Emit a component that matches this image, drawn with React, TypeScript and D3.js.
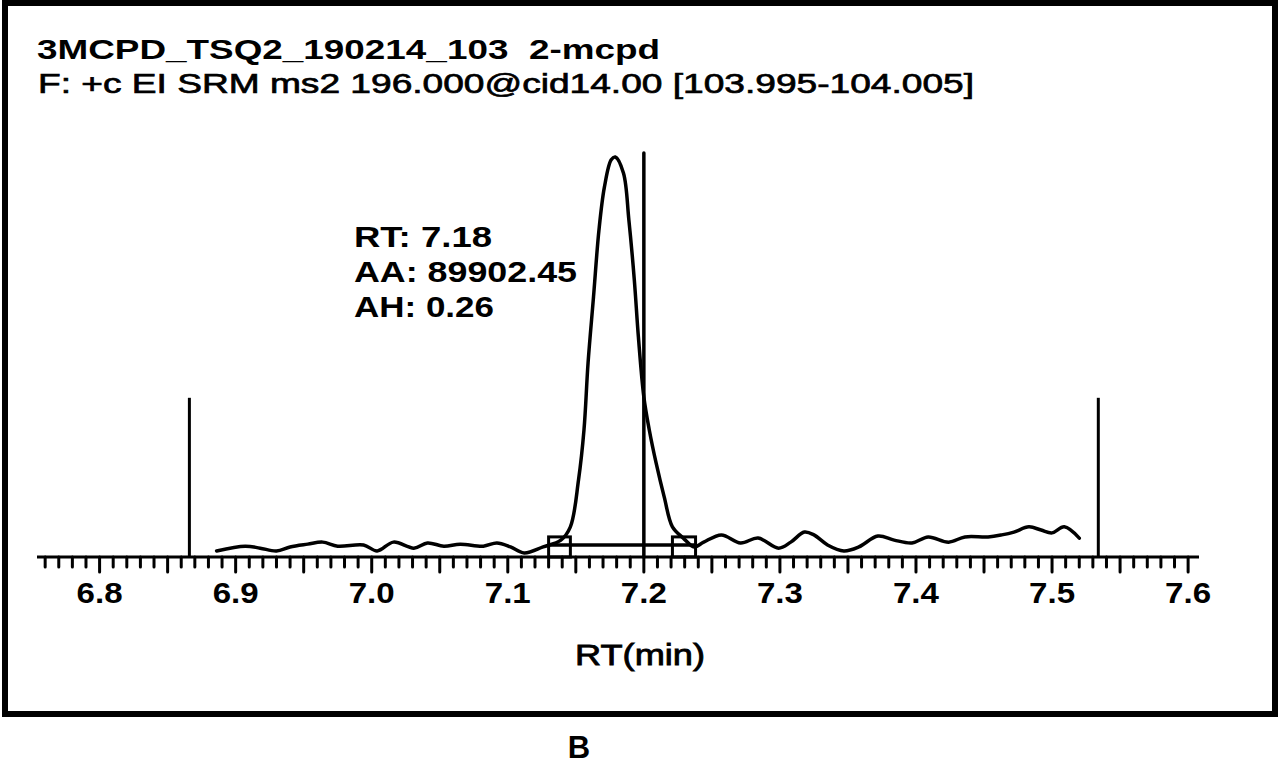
import React from "react";
import * as d3 from "d3";

// chromatogram trace: retention time (min) and relative intensity (%)
const traceRT = [
  6.886, 6.907, 6.918, 6.93, 6.94, 6.953, 6.964, 6.975, 6.994, 7.004, 7.016, 7.031,
  7.041, 7.053, 7.065, 7.082, 7.092, 7.102, 7.112, 7.126, 7.139, 7.146, 7.152, 7.156,
  7.159, 7.163, 7.167, 7.171, 7.176, 7.179, 7.185, 7.189, 7.193, 7.196, 7.2, 7.204,
  7.209, 7.215, 7.221, 7.229, 7.237, 7.244, 7.257, 7.271, 7.284, 7.299, 7.308, 7.318,
  7.325, 7.335, 7.347, 7.358, 7.372, 7.384, 7.397, 7.409, 7.424, 7.436, 7.453, 7.463,
  7.472, 7.483, 7.492, 7.5, 7.509, 7.52,
];
const traceIntensity = [
  1.5, 2.7, 2.2, 1.5, 2.5, 3.2, 3.7, 2.7, 3.0, 1.5, 3.7, 2.2,
  3.5, 2.7, 3.2, 2.7, 3.5, 2.5, 1.0, 2.5, 4.2, 7.5, 19.2, 31.6,
  48.3, 64.7, 81.3, 92.0, 98.8, 99.5, 95.5, 83.8, 68.9, 54.7, 39.8, 31.6,
  23.4, 14.9, 7.5, 4.7, 2.5, 3.7, 5.5, 3.5, 4.7, 2.2, 3.7, 6.2,
  5.5, 3.0, 1.5, 2.5, 5.2, 4.2, 3.5, 5.0, 3.7, 5.0, 5.0, 5.5,
  6.2, 7.5, 6.7, 6.0, 7.5, 4.7,
];

const tickLabels = ["6.8", "6.9", "7.0", "7.1", "7.2", "7.3", "7.4", "7.5", "7.6"];

// peak integration boxes [start, end] in min, height in %
const boxStarts = [7.13, 7.221];
const boxEnds = [7.146, 7.238];
const boxHeight = 5;
const peakBaseLevel = 3;

// window markers and the apex marker
const markerRT = [6.866, 7.534];
const markerHeight = 39.6;
const apexRT = 7.2;
const apexHeight = 100.5;

const titleLine1 = "3MCPD_TSQ2_190214_103  2-mcpd";
const titleLine2 = "F: +c EI SRM ms2 196.000@cid14.00 [103.995-104.005]";
const annotations = ["RT: 7.18", "AA: 89902.45", "AH: 0.26"];
const annotationWidths = [138, 223, 140];

const W = 1279;
const H = 765;
const font = "'Liberation Sans', Arial, sans-serif";

export default function App() {
  const x = d3.scaleLinear().domain([6.754, 7.608]).range([37, 1199]);
  const y = d3.scaleLinear().domain([0, 100]).range([557, 155]);

  const points: [number, number][] = traceRT.map((t, i) => [t, traceIntensity[i]]);
  const line = d3
    .line<[number, number]>()
    .x((d) => x(d[0]))
    .y((d) => y(d[1]))
    .curve(d3.curveCatmullRom.alpha(0.5));

  const ticks = d3.range(676, 761).map((i) => i / 100);

  return (
    <div style={{ position: "absolute", left: 0, top: 0 }}>
      <svg width={W} height={H} style={{ display: "block", background: "#fff" }}>
        <rect x={5} y={3} width={1270} height={711} fill="none" stroke="#000" strokeWidth={6} />

        <text x={37} y={59} fontFamily={font} fontSize={28} fontWeight="bold"
          textLength={623} lengthAdjust="spacingAndGlyphs" style={{ whiteSpace: "pre" }}>
          {titleLine1}
        </text>
        <text x={38} y={93} fontFamily={font} fontSize={28} stroke="#000" strokeWidth={0.7}
          textLength={936} lengthAdjust="spacingAndGlyphs">
          {titleLine2}
        </text>

        {/* x axis */}
        <line x1={x.range()[0]} x2={x.range()[1]} y1={y(0)} y2={y(0)} stroke="#000" strokeWidth={3} />
        {ticks.map((t, i) => {
          const major = Math.round(t * 100) % 5 === 0;
          return (
            <line key={i} x1={x(t)} x2={x(t)} y1={y(0)} y2={y(0) + (major ? 15 : 10)}
              stroke="#000" strokeWidth={3} strokeLinecap="round" />
          );
        })}
        {tickLabels.map((l) => (
          <text key={l} x={x(+l)} y={603} textAnchor="middle" fontFamily={font} fontSize={29}
            fontWeight="bold" textLength={46} lengthAdjust="spacingAndGlyphs">
            {l}
          </text>
        ))}
        <text x={640} y={665} textAnchor="middle" fontFamily={font} fontSize={29}
          stroke="#000" strokeWidth={0.8} textLength={130} lengthAdjust="spacingAndGlyphs">
          RT(min)
        </text>

        {/* window markers */}
        {markerRT.map((t) => (
          <line key={t} x1={x(t)} x2={x(t)} y1={y(0)} y2={y(markerHeight)} stroke="#000" strokeWidth={3} />
        ))}
        <line x1={x(apexRT)} x2={x(apexRT)} y1={y(0)} y2={y(apexHeight)} stroke="#000" strokeWidth={3.5} strokeLinecap="round" />

        {/* integration boxes and baseline */}
        {boxStarts.map((s, i) => (
          <rect key={i} x={x(s)} y={y(boxHeight)} width={x(boxEnds[i]) - x(s)}
            height={y(0) - y(boxHeight)} fill="none" stroke="#000" strokeWidth={3} />
        ))}
        <line x1={x(boxStarts[0])} x2={x(boxEnds[1])} y1={y(peakBaseLevel)} y2={y(peakBaseLevel)}
          stroke="#000" strokeWidth={3.5} />

        {/* trace */}
        <path d={line(points) ?? ""} fill="none" stroke="#000" strokeWidth={3.5}
          strokeLinejoin="round" strokeLinecap="round" />

        {annotations.map((a, i) => (
          <text key={a} x={354} y={247 + i * 35} fontFamily={font} fontSize={29} fontWeight="bold"
            textLength={annotationWidths[i]} lengthAdjust="spacingAndGlyphs">
            {a}
          </text>
        ))}

        <text x={579} y={758} textAnchor="middle" fontFamily={font} fontSize={31} fontWeight="bold">
          B
        </text>
      </svg>
    </div>
  );
}
